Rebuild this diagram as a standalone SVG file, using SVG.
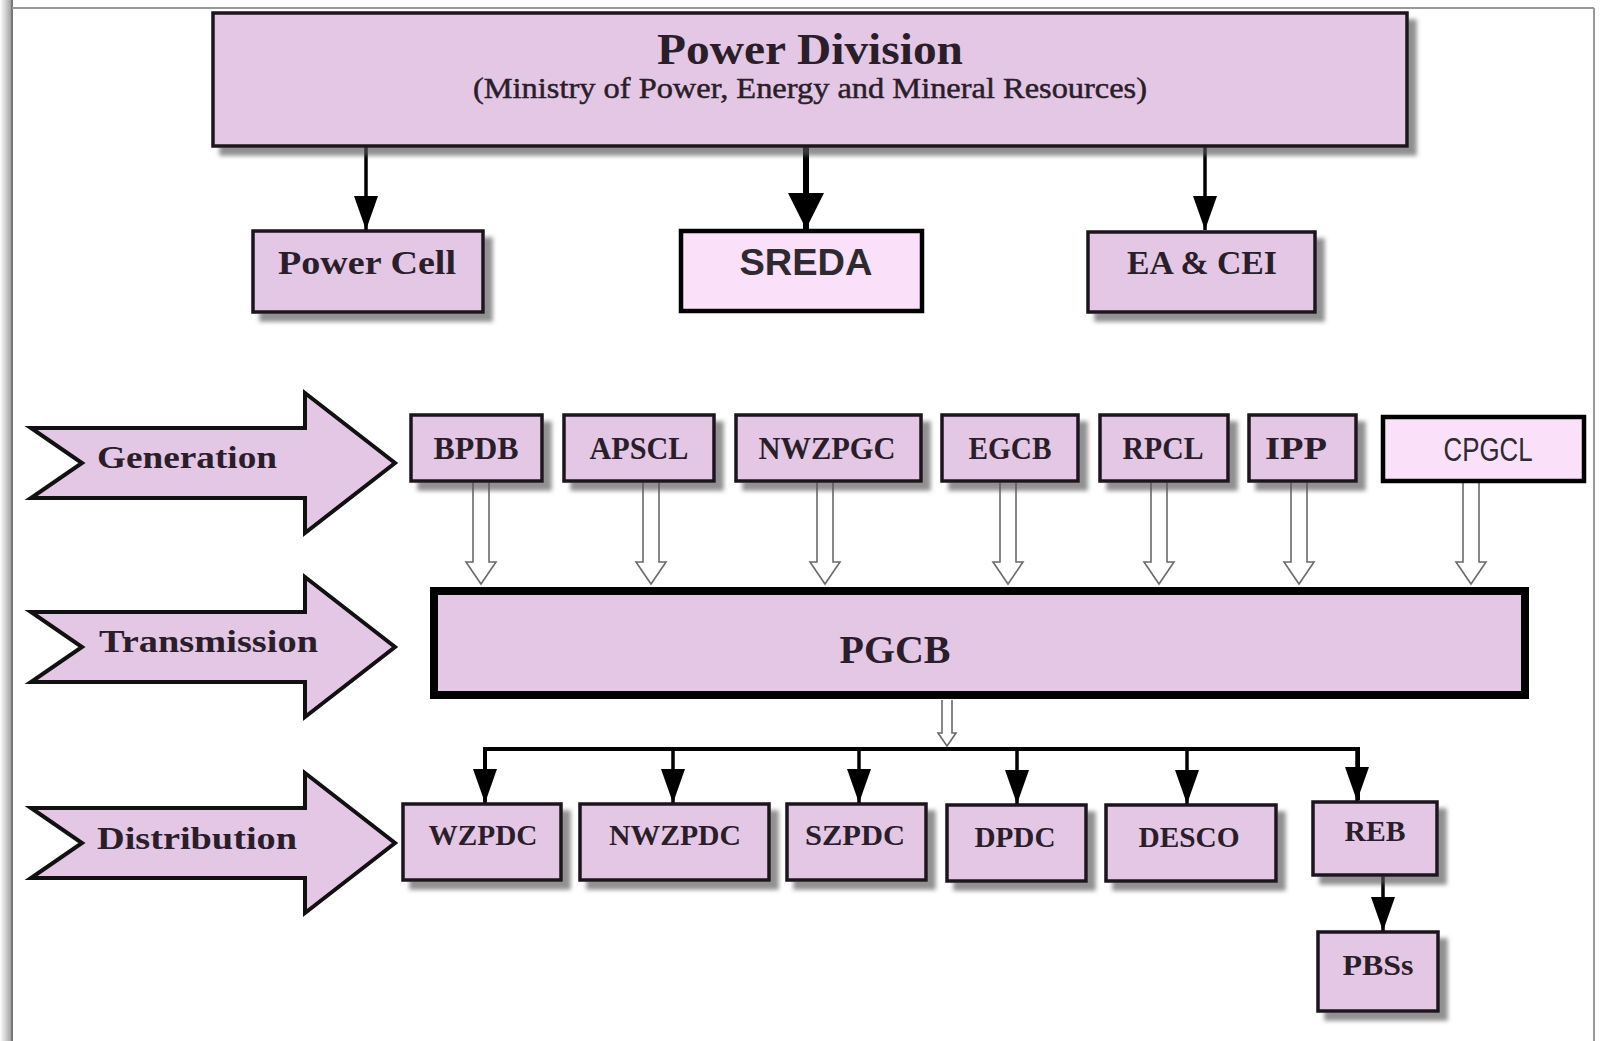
<svg xmlns="http://www.w3.org/2000/svg" width="1604" height="1041" viewBox="0 0 1604 1041">
<defs>
<style>
.box{fill:#e4c7e4;stroke:#1e161e;stroke-width:3.5}
.lite{fill:#fbe0fa;stroke:#000;stroke-width:4.5}
.t{font-family:"Liberation Serif","Times New Roman",serif;font-weight:bold;fill:#2a1e2a;text-anchor:middle}
.sub{font-family:"Liberation Serif","Times New Roman",serif;font-weight:normal;fill:#2a1e2a;text-anchor:middle;stroke:#2a1e2a;stroke-width:0.5}
.s{font-family:"Liberation Sans",Arial,sans-serif;fill:#2e2a30;text-anchor:middle}
.big{fill:#e4c7e4;stroke:#111;stroke-width:4;stroke-linejoin:miter}
.hol{fill:#fff;stroke:#6a6a6a;stroke-width:1.6}
.ln{stroke:#000;fill:none}
</style>
<filter id="sh" x="-10%" y="-10%" width="130%" height="150%">
<feDropShadow dx="8" dy="8" stdDeviation="2" flood-color="#555" flood-opacity="0.65"/>
</filter>
<linearGradient id="lg" x1="0" x2="1" y1="0" y2="0">
<stop offset="0" stop-color="#ffffff"/>
<stop offset="1" stop-color="#9a9a9a"/>
</linearGradient>
<marker id="ah" viewBox="0 0 34 24" refX="34" refY="12" markerWidth="34" markerHeight="24" markerUnits="userSpaceOnUse" orient="auto">
<path d="M0,0 L34,12 L0,24 z" fill="#000"/>
</marker>
<marker id="ahb" viewBox="0 0 36 36" refX="36" refY="18" markerWidth="36" markerHeight="36" markerUnits="userSpaceOnUse" orient="auto">
<path d="M0,0 L36,18 L0,36 z" fill="#000"/>
</marker>
</defs>

<rect x="0" y="0" width="1604" height="1041" fill="#fff"/>
<g id="frame">
<rect x="0" y="0" width="12" height="1041" fill="url(#lg)"/>
<line x1="12" y1="0" x2="12" y2="1041" stroke="#777" stroke-width="2"/>
<line x1="12" y1="8" x2="1594" y2="8" stroke="#999" stroke-width="2"/>
<line x1="1594" y1="8" x2="1594" y2="1041" stroke="#999" stroke-width="2"/>
</g>

<g id="connectors">
<line class="ln" x1="366" y1="147" x2="366" y2="230" stroke-width="3.5" marker-end="url(#ah)"/>
<line class="ln" x1="806" y1="147" x2="806" y2="229" stroke-width="6" marker-end="url(#ahb)"/>
<line class="ln" x1="1205" y1="147" x2="1205" y2="230" stroke-width="3.5" marker-end="url(#ah)"/>

<path class="hol" d="M473,482 V562 H466 L481,584 L496,562 H489 V482"/>
<path class="hol" d="M643,482 V562 H636 L651,584 L666,562 H659 V482"/>
<path class="hol" d="M817,482 V562 H810 L825,584 L840,562 H833 V482"/>
<path class="hol" d="M1000,482 V562 H993 L1008,584 L1023,562 H1016 V482"/>
<path class="hol" d="M1151,482 V562 H1144 L1159,584 L1174,562 H1167 V482"/>
<path class="hol" d="M1291,482 V562 H1284 L1299,584 L1314,562 H1307 V482"/>
<path class="hol" d="M1463,482 V562 H1456 L1471,584 L1486,562 H1479 V482"/>

<path class="hol" d="M942,700 V733 H938 L947,746 L956,733 H952 V700"/>
<polyline class="ln" points="485,802 485,749 1358,749 1358,800" stroke-width="4"/>
<line class="ln" x1="485" y1="749" x2="485" y2="803" stroke-width="3.5" marker-end="url(#ah)"/>
<line class="ln" x1="673" y1="749" x2="673" y2="803" stroke-width="3.5" marker-end="url(#ah)"/>
<line class="ln" x1="859" y1="749" x2="859" y2="803" stroke-width="3.5" marker-end="url(#ah)"/>
<line class="ln" x1="1017" y1="749" x2="1017" y2="804" stroke-width="3.5" marker-end="url(#ah)"/>
<line class="ln" x1="1187" y1="749" x2="1187" y2="804" stroke-width="3.5" marker-end="url(#ah)"/>
<line class="ln" x1="1357" y1="749" x2="1357" y2="801" stroke-width="3.5" marker-end="url(#ah)"/>
<line class="ln" x1="1383" y1="876" x2="1383" y2="931" stroke-width="3.5" marker-end="url(#ah)"/>
</g>

<g id="power-division">
<rect class="box" x="213" y="13" width="1194" height="133" filter="url(#sh)"/>
<text class="t" x="810" y="64" font-size="44" textLength="306" lengthAdjust="spacingAndGlyphs">Power Division</text>
<text class="sub" x="810" y="98" font-size="30" textLength="674" lengthAdjust="spacingAndGlyphs">(Ministry of Power, Energy and Mineral Resources)</text>
</g>

<g id="power-cell">
<rect class="box" x="253" y="231" width="230" height="81" filter="url(#sh)"/>
<text class="t" x="367" y="274" font-size="33" textLength="178" lengthAdjust="spacingAndGlyphs">Power Cell</text>
</g>
<g id="sreda">
<rect class="lite" x="681" y="231" width="241" height="80"/>
<text class="s" x="806" y="275" font-size="36" font-weight="bold" textLength="133" lengthAdjust="spacingAndGlyphs">SREDA</text>
</g>
<g id="ea-cei">
<rect class="box" x="1088" y="232" width="227" height="80" filter="url(#sh)"/>
<text class="t" x="1202" y="274" font-size="33" textLength="150" lengthAdjust="spacingAndGlyphs">EA &amp; CEI</text>
</g>

<g id="generation">
<path class="big" d="M31,428 H305 V393 L395,463 L305,533 V498 H31 L82,463 Z"/>
<text class="t" x="97" y="468" font-size="32" style="text-anchor:start" textLength="180" lengthAdjust="spacingAndGlyphs">Generation</text>
</g>
<g id="transmission">
<path class="big" d="M31,612 H305 V577 L395,647 L305,717 V682 H31 L82,647 Z"/>
<text class="t" x="99" y="652" font-size="32" style="text-anchor:start" textLength="219" lengthAdjust="spacingAndGlyphs">Transmission</text>
</g>
<g id="distribution">
<path class="big" d="M31,808 H305 V773 L395,843 L305,913 V878 H31 L82,843 Z"/>
<text class="t" x="97" y="849" font-size="32" style="text-anchor:start" textLength="200" lengthAdjust="spacingAndGlyphs">Distribution</text>
</g>

<g id="bpdb">
<rect class="box" x="411" y="415" width="131" height="66" filter="url(#sh)"/>
<text class="t" x="476" y="459" font-size="31" textLength="85" lengthAdjust="spacingAndGlyphs">BPDB</text>
</g>
<g id="apscl">
<rect class="box" x="564" y="415" width="150" height="66" filter="url(#sh)"/>
<text class="t" x="639" y="459" font-size="31" textLength="99" lengthAdjust="spacingAndGlyphs">APSCL</text>
</g>
<g id="nwzpgc">
<rect class="box" x="736" y="415" width="185" height="66" filter="url(#sh)"/>
<text class="t" x="827" y="459" font-size="31" textLength="137" lengthAdjust="spacingAndGlyphs">NWZPGC</text>
</g>
<g id="egcb">
<rect class="box" x="942" y="415" width="136" height="66" filter="url(#sh)"/>
<text class="t" x="1010" y="459" font-size="31" textLength="83" lengthAdjust="spacingAndGlyphs">EGCB</text>
</g>
<g id="rpcl">
<rect class="box" x="1100" y="415" width="128" height="66" filter="url(#sh)"/>
<text class="t" x="1163" y="459" font-size="31" textLength="81" lengthAdjust="spacingAndGlyphs">RPCL</text>
</g>
<g id="ipp">
<rect class="box" x="1249" y="415" width="107" height="66" filter="url(#sh)"/>
<text class="t" x="1296" y="459" font-size="31" textLength="62" lengthAdjust="spacingAndGlyphs">IPP</text>
</g>
<g id="cpgcl">
<rect class="lite" x="1383" y="417" width="201" height="64" stroke-width="4"/>
<text class="s" x="1488" y="461" font-size="34" textLength="89" lengthAdjust="spacingAndGlyphs">CPGCL</text>
</g>

<g id="pgcb">
<rect x="434" y="591" width="1091" height="104" fill="#e4c7e4" stroke="#000" stroke-width="8"/>
<text class="t" x="895" y="663" font-size="40" textLength="111" lengthAdjust="spacingAndGlyphs">PGCB</text>
</g>

<g id="wzpdc">
<rect class="box" x="403" y="804" width="158" height="76" filter="url(#sh)"/>
<text class="t" x="483" y="845" font-size="30" textLength="109" lengthAdjust="spacingAndGlyphs">WZPDC</text>
</g>
<g id="nwzpdc">
<rect class="box" x="580" y="804" width="189" height="76" filter="url(#sh)"/>
<text class="t" x="675" y="845" font-size="30" textLength="132" lengthAdjust="spacingAndGlyphs">NWZPDC</text>
</g>
<g id="szpdc">
<rect class="box" x="787" y="804" width="139" height="76" filter="url(#sh)"/>
<text class="t" x="855" y="845" font-size="30" textLength="100" lengthAdjust="spacingAndGlyphs">SZPDC</text>
</g>
<g id="dpdc">
<rect class="box" x="947" y="805" width="139" height="76" filter="url(#sh)"/>
<text class="t" x="1015" y="847" font-size="30" textLength="81" lengthAdjust="spacingAndGlyphs">DPDC</text>
</g>
<g id="desco">
<rect class="box" x="1106" y="805" width="170" height="76" filter="url(#sh)"/>
<text class="t" x="1189" y="847" font-size="30" textLength="101" lengthAdjust="spacingAndGlyphs">DESCO</text>
</g>
<g id="reb">
<rect class="box" x="1313" y="802" width="124" height="73" filter="url(#sh)"/>
<text class="t" x="1375" y="841" font-size="30" textLength="61" lengthAdjust="spacingAndGlyphs">REB</text>
</g>
<g id="pbss">
<rect class="box" x="1318" y="932" width="120" height="79" filter="url(#sh)"/>
<text class="t" x="1378" y="975" font-size="30" textLength="71" lengthAdjust="spacingAndGlyphs">PBSs</text>
</g>
</svg>
